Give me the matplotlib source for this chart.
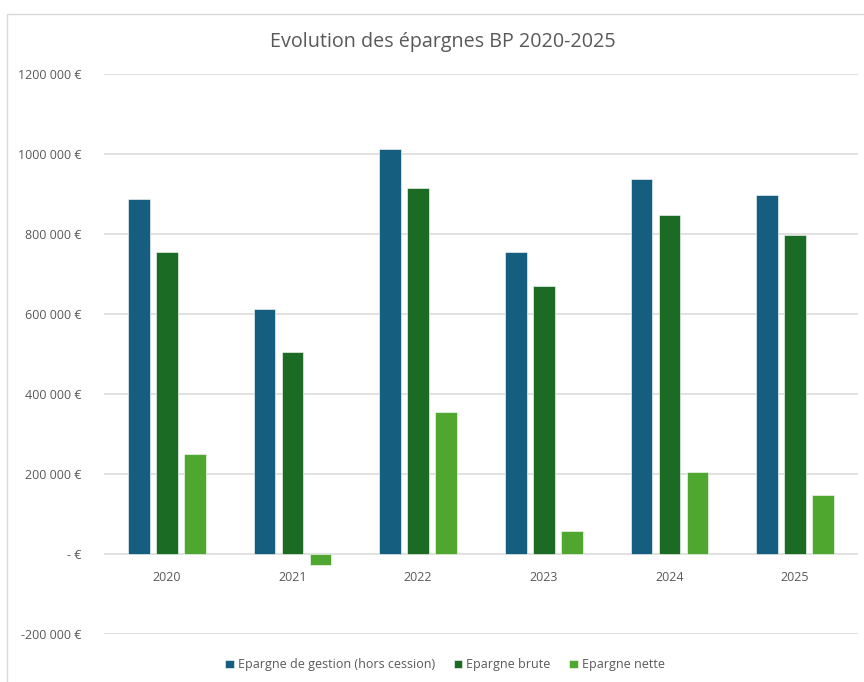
import numpy as np
import matplotlib.pyplot as plt

years = ["2020", "2021", "2022", "2023", "2024", "2025"]
epargne_gestion = [887000, 613000, 1013000, 755000, 937000, 897000]
epargne_brute = [755000, 506000, 915000, 670000, 848000, 798000]
epargne_nette = [249000, -28000, 355000, 57000, 204000, 147000]
series_names = ["Epargne de gestion (hors cession)", "Epargne brute", "Epargne nette"]
y_ticks = [-200000, 0, 200000, 400000, 600000, 800000, 1000000, 1200000]
y_tick_labels = ["-200 000 €", "- €", "200 000 €", "400 000 €", "600 000 €",
                 "800 000 €", "1000 000 €", "1200 000 €"]

colors = ["#165E80", "#1B6B24", "#4FA72F"]
grey_txt = "#595959"
grid_col = "#D9D9D9"

plt.rcParams['font.family'] = ['Open Sans', 'DejaVu Sans']

fig = plt.figure(figsize=(8.64, 6.82), dpi=100)
ax = fig.add_axes([0.1204, 0.0704, 0.8726, 0.8211])

x = np.arange(len(years))
w = 0.171
step = 0.223
for i, (vals, name) in enumerate(zip([epargne_gestion, epargne_brute, epargne_nette], series_names)):
    ax.bar(x + (i - 1) * step, vals, width=w, color=colors[i], label=name,
           edgecolor="white", linewidth=0.4, zorder=3)

ax.set_xlim(-0.5, len(years) - 0.5)
ax.set_ylim(-200000, 1200000)
ax.set_yticks(y_ticks)
ax.set_yticklabels(y_tick_labels)
ax.set_xticks(x)
ax.set_xticklabels(years)
ax.tick_params(axis='both', length=0, colors=grey_txt, labelsize=9)
ax.tick_params(axis='y', pad=16)
ax.tick_params(axis='x', pad=12)
ax.grid(axis='y', color=grid_col, linewidth=1.1, zorder=0)
for s in ax.spines.values():
    s.set_visible(False)
# category labels sit just under the zero line
ax.spines['bottom'].set_position(('data', 0))

fig.text(0.512, 0.938, "Evolution des épargnes BP 2020-2025", ha='center', va='center',
         fontsize=14.2, color=grey_txt)

fig.legend(loc='center', bbox_to_anchor=(0.515, 0.025), ncol=3, frameon=False,
           fontsize=9, labelcolor=grey_txt, handlelength=0.7, handleheight=0.7,
           handletextpad=0.3, columnspacing=1.5)

# chart frame
fig.add_artist(plt.Rectangle((7 / 864, -0.05), 1.0, 1 - 14 / 682 + 0.05,
                             transform=fig.transFigure, fill=False,
                             edgecolor=grid_col, linewidth=1))

fig.savefig("out.png", dpi=100)
